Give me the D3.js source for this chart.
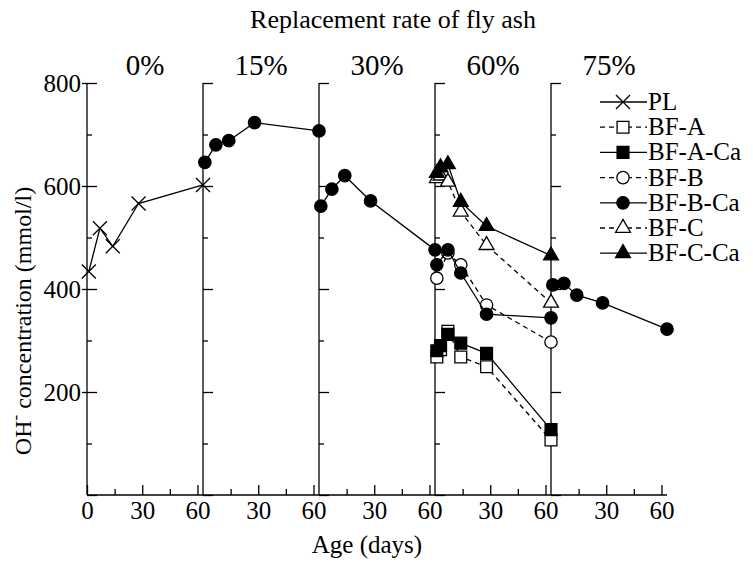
<!DOCTYPE html>
<html>
<head>
<meta charset="utf-8">
<script src="https://cdn.jsdelivr.net/npm/d3@7.9.0/dist/d3.min.js"></script>
<style>
  body { margin: 0; background: #fff; }
</style>
</head>
<body>
<svg id="chart"></svg>
<script>
// panels (replacement rate of fly ash)
const panels = ["0%", "15%", "30%", "60%", "75%"];

// ages (days)
const ages = [1, 7, 14, 28, 63];
const agesFine = [1, 3, 7, 14, 28, 63];

// OH- concentration (mmol/l)
const pl0 = [434, 518, 483, 566, 602];
const bfBCa15 = [646, 680, 688, 723, 707];
const bfBCa30 = [561, 594, 620, 571, 476];
const bfA60 = [268, 282, 318, 268, 249, 107];
const bfACa60 = [280, 290, 312, 295, 275, 127];
const bfB60 = [421, 470, 447, 369, 297];
const bfBCa60 = [447, 476, 431, 351, 344];
const bfC60 = [615, 620, 608, 550, 485, 373];
const bfCCa60 = [625, 636, 642, 569, 522, 465];
const bfBCa75 = [408, 411, 388, 373, 322];

const legendNames = ["PL", "BF-A", "BF-A-Ca", "BF-B", "BF-B-Ca", "BF-C", "BF-C-Ca"];

const FONT = "'Liberation Serif', 'Times New Roman', serif";
const W = 753, H = 562;
const left = 87, panelW = 116;
const svg = d3.select("#chart").attr("width", W).attr("height", H)
  .style("font-family", FONT);

const y = d3.scaleLinear().domain([0, 800]).range([495, 83]);
const xs = panels.map((p, i) => d3.scaleLinear().domain([0, 63]).range([left + i * panelW, left + (i + 1) * panelW]));

// marker styles per series name
const styles = {
  "PL":      { sym: d3.symbolTimes,    size: 130, fill: "none", dash: null },
  "BF-A":    { sym: d3.symbolSquare,   size: 140, fill: "#fff", dash: "5,4" },
  "BF-A-Ca": { sym: d3.symbolSquare,   size: 140, fill: "#000", dash: null },
  "BF-B":    { sym: d3.symbolCircle,   size: 120, fill: "#fff", dash: "5,4" },
  "BF-B-Ca": { sym: d3.symbolCircle,   size: 120, fill: "#000", dash: null },
  "BF-C":    { sym: d3.symbolTriangle, size: 95,  fill: "#fff", dash: "5,4" },
  "BF-C-Ca": { sym: d3.symbolTriangle, size: 95,  fill: "#000", dash: null }
};

// series placed in panels
const series = [
  { name: "PL", panel: 0, ages: ages, vals: pl0 },
  { name: "BF-B-Ca", panel: 1, ages: ages, vals: bfBCa15 },
  { name: "BF-B-Ca", panel: 2, ages: ages, vals: bfBCa30 },
  { name: "BF-A", panel: 3, ages: agesFine, vals: bfA60 },
  { name: "BF-B", panel: 3, ages: ages, vals: bfB60 },
  { name: "BF-C", panel: 3, ages: agesFine, vals: bfC60 },
  { name: "BF-A-Ca", panel: 3, ages: agesFine, vals: bfACa60 },
  { name: "BF-B-Ca", panel: 3, ages: ages, vals: bfBCa60 },
  { name: "BF-C-Ca", panel: 3, ages: agesFine, vals: bfCCa60 },
  { name: "BF-B-Ca", panel: 4, ages: ages, vals: bfBCa75 }
];

function serif(sel) {
  sel.attr("font-family", null).style("font-family", FONT);
}

// axes: panel dividers with inward ticks
panels.forEach((p, i) => {
  const x0 = xs[i](0);
  const g = svg.append("g").attr("transform", `translate(${x0},0)`);
  g.append("g").call(d3.axisRight(y).tickValues([0, 200, 400, 600, 800]).tickSize(10).tickFormat(""))
    .call(a => a.select(".domain").remove());
  g.append("g").call(d3.axisRight(y).tickValues([100, 300, 500, 700]).tickSize(5).tickFormat(""))
    .call(a => a.select(".domain").remove());
  g.append("line").attr("y1", y(0)).attr("y2", y(800)).attr("stroke", "#000").attr("stroke-width", 1.3);
  g.selectAll(".tick line").attr("stroke-width", 1.3);

  // x ticks pointing up
  const xa = svg.append("g").attr("transform", `translate(0,${y(0)})`);
  xa.append("g").call(d3.axisBottom(xs[i]).tickValues(i === 0 ? [0, 30, 60] : [30, 60])
      .tickSizeInner(-10).tickSizeOuter(0).tickPadding(6).tickFormat(d3.format("d")))
    .call(a => a.select(".domain").remove())
    .call(serif)
    .call(a => a.selectAll("text").attr("font-size", 25).call(serif));
  xa.append("g").call(d3.axisBottom(xs[i]).tickValues([15, 45]).tickSizeInner(-6).tickSizeOuter(0).tickFormat(""))
    .call(a => a.select(".domain").remove());
  xa.selectAll(".tick line").attr("stroke-width", 1.3);

  svg.append("text").attr("x", xs[i](31.5)).attr("y", 75).attr("text-anchor", "middle")
    .attr("font-size", 29).call(serif).text(p);
});

// left labels + outward tick stubs
svg.append("g").attr("transform", `translate(${left},0)`)
  .call(d3.axisLeft(y).tickValues([200, 400, 600, 800]).tickSize(5).tickPadding(1))
  .call(a => a.select(".domain").remove())
  .call(serif)
  .call(a => a.selectAll("text").attr("font-size", 25).call(serif))
  .call(a => a.selectAll(".tick line").attr("stroke-width", 1.3));

// bottom line
svg.append("line").attr("x1", left).attr("x2", xs[4](63)).attr("y1", y(0)).attr("y2", y(0))
  .attr("stroke", "#000").attr("stroke-width", 1.3);

// data
const lineGen = d3.line().x(d => d.x).y(d => d.y);
series.forEach(s => {
  const st = styles[s.name];
  const pts = s.vals.map((v, k) => ({ x: xs[s.panel](s.ages[k]), y: y(v) }));
  svg.append("path").datum(pts).attr("d", lineGen).attr("fill", "none")
    .attr("stroke", "#000").attr("stroke-width", 1.3)
    .attr("stroke-dasharray", st.dash);
  svg.append("g").selectAll("path").data(pts).join("path")
    .attr("transform", d => `translate(${d.x},${d.y})`)
    .attr("d", d3.symbol(st.sym, st.size))
    .attr("fill", st.fill).attr("stroke", "#000").attr("stroke-width", 1.3);
});

// legend
const lg = svg.append("g").attr("transform", "translate(600,102)");
legendNames.forEach((n, k) => {
  const st = styles[n];
  const r = lg.append("g").attr("transform", `translate(0,${k * 25.2})`);
  r.append("line").attr("x1", 0).attr("x2", 47).attr("stroke", "#000").attr("stroke-width", 1.3)
    .attr("stroke-dasharray", st.dash);
  r.append("path").attr("transform", "translate(23,0)").attr("d", d3.symbol(st.sym, st.size))
    .attr("fill", st.fill).attr("stroke", "#000").attr("stroke-width", 1.3);
  r.append("text").attr("x", 48).attr("y", 8).attr("font-size", 25).call(serif).text(n);
});

// titles
svg.append("text").attr("x", 393).attr("y", 28).attr("text-anchor", "middle")
  .attr("font-size", 26).call(serif).text("Replacement rate of fly ash");
svg.append("text").attr("x", 367).attr("y", 553).attr("text-anchor", "middle")
  .attr("font-size", 25).call(serif).text("Age (days)");
const yt = svg.append("text").attr("transform", "translate(31,321) rotate(-90)")
  .attr("text-anchor", "middle").attr("font-size", 24).call(serif);
yt.append("tspan").text("OH");
yt.append("tspan").attr("dy", -10).attr("font-size", 17).text("-");
yt.append("tspan").attr("dy", 10).text(" concentration (mmol/l)");
</script>
</body>
</html>
